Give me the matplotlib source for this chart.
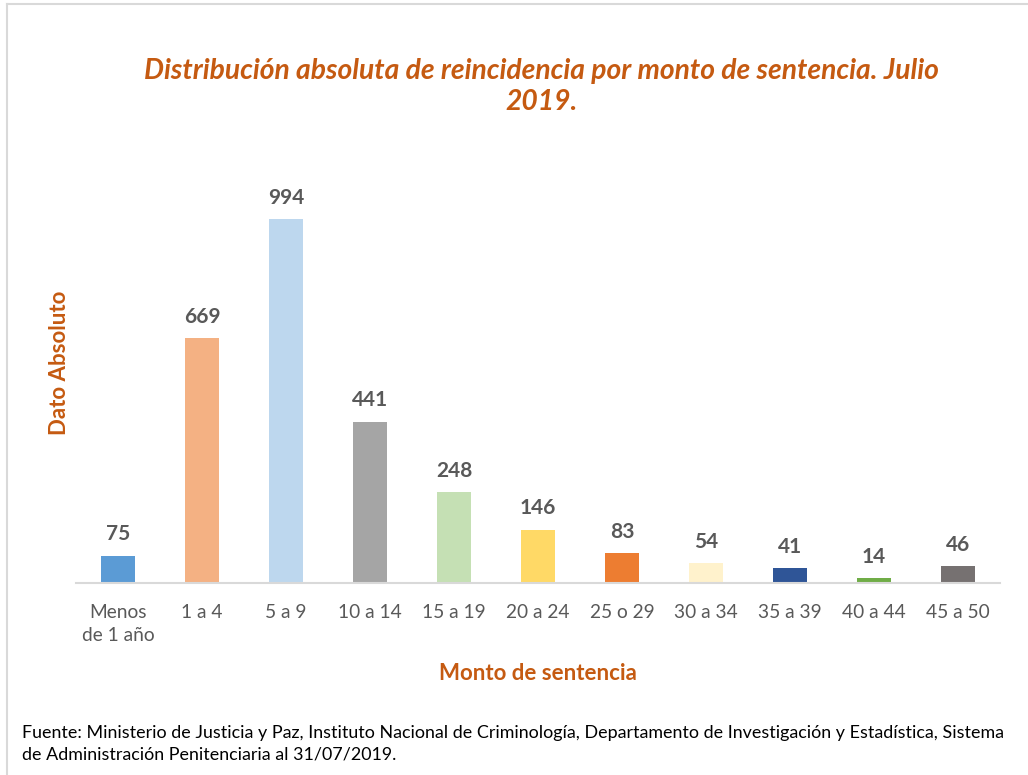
import matplotlib
matplotlib.use("Agg")
import matplotlib.pyplot as plt
from matplotlib.lines import Line2D

categories = ["Menos\nde 1 año", "1 a 4", "5 a 9", "10 a 14", "15 a 19", "20 a 24",
              "25 o 29", "30 a 34", "35 a 39", "40 a 44", "45 a 50"]
values = [75, 669, 994, 441, 248, 146, 83, 54, 41, 14, 46]
bar_colors = ["#5B9BD5", "#F4B183", "#BDD7EE", "#A5A5A5", "#C5E0B4", "#FFD966",
              "#ED7D31", "#FFF2CC", "#2F5597", "#70AD47", "#767171"]

title = "Distribución absoluta de reincidencia por monto de sentencia. Julio\n2019."
ylabel = "Dato Absoluto"
xlabel = "Monto de sentencia"
source = ("Fuente: Ministerio de Justicia y Paz, Instituto Nacional de Criminología, Departamento de Investigación y Estadística, Sistema\n"
          "de Administración Penitenciaria al 31/07/2019.")

plt.rcParams['font.family'] = ['Lato', 'DejaVu Sans']
orange = "#C55A11"
gray = "#595959"

fig = plt.figure(figsize=(10.28, 7.75), dpi=100)
ax = fig.add_axes([0.0739, 0.2477, 0.8989, 0.5458])
x = list(range(len(categories)))
bars = ax.bar(x, values, width=0.41, color=bar_colors, zorder=2)
ax.set_xlim(-0.5, len(categories) - 0.5)
ax.set_ylim(0, 1155)
for s in ["top", "right", "left"]:
    ax.spines[s].set_visible(False)
ax.spines["bottom"].set_color("#D9D9D9")
ax.spines["bottom"].set_linewidth(1.5)
ax.set_yticks([])
ax.set_xticks(x)
ax.set_xticklabels(categories, fontsize=13.8, color=gray, linespacing=1.45)
ax.tick_params(axis="x", length=0, pad=15)
for xi, v in zip(x, values):
    ax.annotate(str(v), (xi, v), xytext=(0, 8), textcoords="offset points",
                ha="center", va="bottom", fontsize=15, fontweight="bold", color=gray)

fig.text(0.527, 0.888, title, ha="center", va="center", fontsize=20.3,
         fontweight="bold", style="italic", color=orange, linespacing=1.25)
fig.text(0.058, 0.532, ylabel, rotation=90, ha="center", va="center",
         fontsize=16, fontweight="bold", color=orange)
fig.text(0.523, 0.131, xlabel, ha="center", va="center",
         fontsize=16, fontweight="bold", color=orange)
fig.text(0.021, 0.04, source, ha="left", va="center", fontsize=12.9,
         color="black", linespacing=1.4)

fig.add_artist(Line2D([0.0068, 0.0068], [0.0, 0.995], transform=fig.transFigure,
                      color="#D9D9D9", lw=1.5))
fig.add_artist(Line2D([0.0068, 1.0], [0.995, 0.995], transform=fig.transFigure,
                      color="#D9D9D9", lw=1.5))

fig.savefig("out.png", dpi=100, facecolor="white")
